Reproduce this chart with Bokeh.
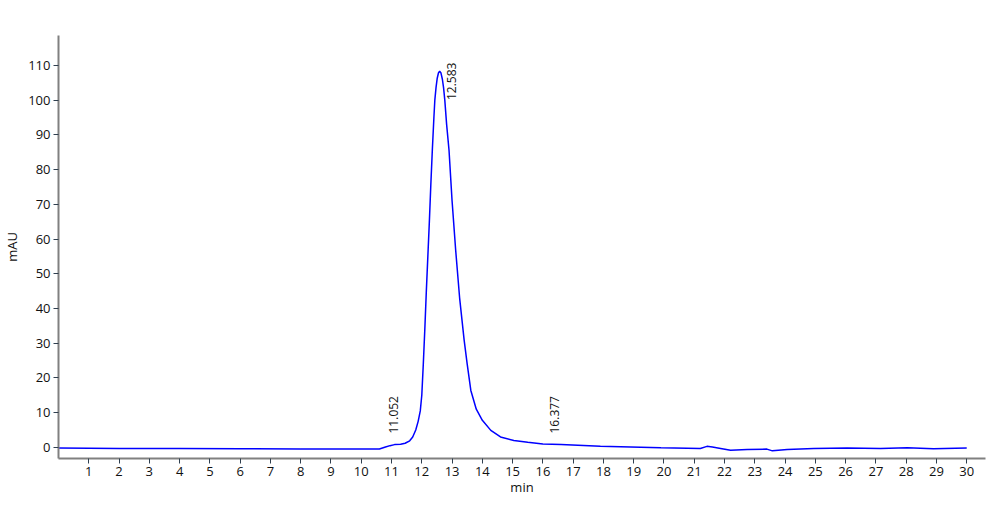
import math
from bokeh.plotting import figure
from bokeh.models import FixedTicker, Range1d, ColumnDataSource
from bokeh.core.properties import value
from bokeh.embed import file_html
from bokeh.resources import INLINE

# chromatogram trace (time in min, signal in mAU)
time_min = [0.0, 2.0, 4.0, 6.0, 8.0, 10.0, 10.6, 10.8, 10.95, 11.1, 11.3, 11.45,
            11.6, 11.7, 11.8, 11.88, 11.95, 12.0, 12.05, 12.1, 12.15, 12.2, 12.25,
            12.3, 12.35, 12.4, 12.43, 12.47, 12.51, 12.55, 12.59, 12.63, 12.68,
            12.72, 12.76, 12.82, 12.9, 13.0, 13.12, 13.25, 13.4, 13.5, 13.62, 13.8,
            14.0, 14.28, 14.6, 15.04, 15.5, 16.0, 16.6, 17.9, 19.9, 21.2, 21.42,
            21.6, 21.87, 22.2, 22.75, 23.4, 23.58, 24.07, 24.95, 26.05, 27.15,
            28.04, 28.9, 30.0]
signal_mau = [-0.2, -0.3, -0.35, -0.4, -0.45, -0.5, -0.45, 0.1, 0.5, 0.8, 0.9, 1.2,
              1.9, 3.0, 5.0, 7.5, 10.5, 15.0, 24.0, 34.0, 45.0, 55.0, 65.0,
              76.0, 86.0, 95.0, 99.9, 103.6, 106.3, 107.8, 108.3, 107.9, 106.0,
              103.5, 100.0, 93.0, 85.5, 71.0, 56.7, 43.0, 30.8, 24.0, 16.4, 11.0,
              7.8, 4.9, 3.0, 2.0, 1.5, 1.0, 0.8, 0.3, -0.1, -0.3, 0.3,
              0.1, -0.3, -0.85, -0.6, -0.5, -1.0, -0.6, -0.3, -0.2, -0.35,
              -0.1, -0.4, -0.2]

# peak annotations
peak_rt = [11.052, 12.583, 16.377]
peak_label_y = [4.0, 100.0, 4.0]
peak_text = ["11.052", "12.583", "16.377"]

x_ticks = list(range(1, 31))
y_ticks = list(range(0, 111, 10))

label_x_offset = [0, 12, 0]

p = figure(width=992, height=508, output_backend="svg", toolbar_location=None,
           x_range=Range1d(0, 30.62), y_range=Range1d(-3.2, 118.6),
           min_border_left=52, min_border_right=7, min_border_top=35,
           min_border_bottom=50)
p.grid.visible = False
p.outline_line_color = None
p.background_fill_color = "white"
p.border_fill_color = "white"

p.line(time_min, signal_mau, line_color="#0000ff", line_width=1.5)

src = ColumnDataSource(dict(x=peak_rt, y=peak_label_y, t=peak_text, xo=label_x_offset))
p.text(x="x", y="y", text="t", x_offset="xo", source=src, angle=math.pi / 2,
       text_align="left", text_baseline="middle", text_font=value("Open Sans"),
       text_font_size="12px", text_color="#111111")

p.xaxis.ticker = FixedTicker(ticks=x_ticks)
p.yaxis.ticker = FixedTicker(ticks=y_ticks)
p.xaxis.axis_label = "min"
p.yaxis.axis_label = "mAU"
for ax in (p.xaxis, p.yaxis):
    ax.axis_line_color = "#808080"
    ax.axis_line_width = 2
    ax.major_tick_line_color = "#2f3f4f"
    ax.major_tick_line_width = 1
    ax.major_tick_in = 0
    ax.major_tick_out = 5
    ax.minor_tick_line_color = None
    ax.major_label_text_font = "Open Sans"
    ax.major_label_text_font_size = "13px"
    ax.major_label_text_color = "#111111"
    ax.major_label_standoff = 3
    ax.axis_label_text_font = "Open Sans"
    ax.axis_label_text_font_size = "13px"
    ax.axis_label_text_font_style = "normal"
    ax.axis_label_text_color = "#111111"
p.xaxis.axis_label_standoff = -1
p.yaxis.axis_label_standoff = 4

open("out.html", "w").write(file_html(p, INLINE))
